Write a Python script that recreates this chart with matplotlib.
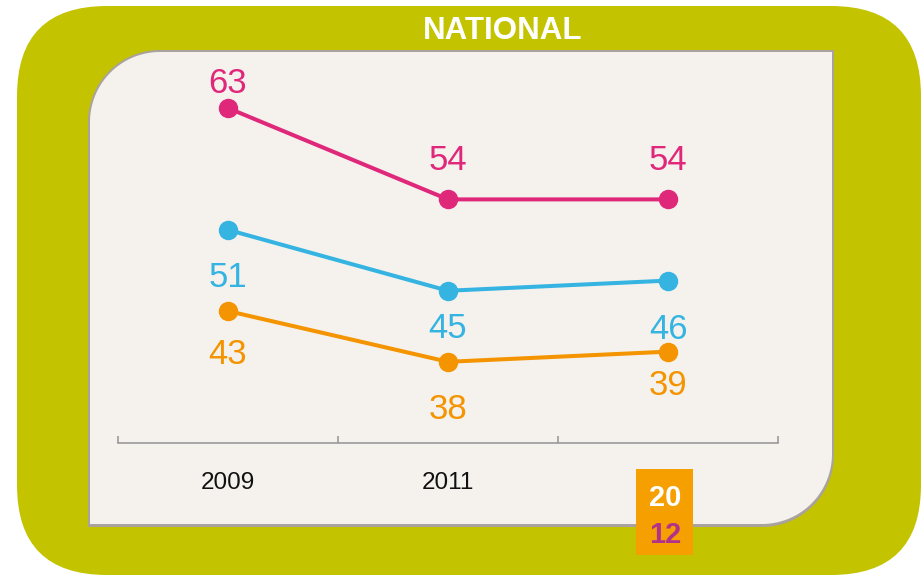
import numpy as np
import matplotlib
matplotlib.use("Agg")
import matplotlib.pyplot as plt
from matplotlib.patches import FancyBboxPatch, Rectangle, PathPatch
from matplotlib.path import Path

# données
years = ["2009", "2011", "2012"]
pink_vals = [63, 54, 54]
blue_vals = [51, 45, 46]
orange_vals = [43, 38, 39]

# décalages des étiquettes (pixels, vers le haut)
pink_dy = [25, 39, 39]
blue_dy = [-48, -38, -49]
orange_dy = [-43, -48, -34]

PINK = "#E0287A"
BLUE = "#35B4E2"
ORANGE = "#F39400"
OLIVE = "#C3C300"
PANEL = "#F5F2EE"

plt.rcParams['font.family'] = ['Liberation Sans', 'DejaVu Sans']

W, H = 921, 575
fig = plt.figure(figsize=(W / 100, H / 100), dpi=100)
fig.patch.set_facecolor("white")

# ---- fond ----
bg = fig.add_axes([0, 0, 1, 1], zorder=0)
bg.set_xlim(0, W)
bg.set_ylim(H, 0)
bg.axis("off")

outer = FancyBboxPatch((17, 6), W - 17, H - 6,
                       boxstyle="round,pad=0,rounding_size=90",
                       facecolor=OLIVE, edgecolor="none")
bg.add_patch(outer)


def panel_path(x0, y0, x1, y1, r_tl, r_br, n=30):
    pts = []
    # coin haut-gauche arrondi
    a = np.linspace(np.pi, 1.5 * np.pi, n)
    cx, cy = x0 + r_tl, y0 + r_tl
    pts += list(zip(cx + r_tl * np.cos(a), cy + r_tl * np.sin(a)))
    pts.append((x1, y0))
    # coin bas-droit arrondi
    a = np.linspace(0, 0.5 * np.pi, n)
    cx, cy = x1 - r_br, y1 - r_br
    pts += list(zip(cx + r_br * np.cos(a), cy + r_br * np.sin(a)))
    pts.append((x0, y1))
    pts.append(pts[0])
    codes = [Path.MOVETO] + [Path.LINETO] * (len(pts) - 2) + [Path.CLOSEPOLY]
    return Path(pts, codes)


shadow = PathPatch(panel_path(88, 50, 834, 527, 72, 72),
                   facecolor="#A9A29E", edgecolor="none")
bg.add_patch(shadow)
panel = PathPatch(panel_path(90, 52, 832, 524, 70, 70),
                  facecolor=PANEL, edgecolor="none")
bg.add_patch(panel)

fig.text(503 / W, 1 - 31 / H, "NATIONAL", color="white", fontsize=22.5,
         fontweight="bold", ha="center", va="center")

# ---- graphique ----
ax = fig.add_axes([118 / W, (H - 443) / H, 660 / W, 36 * 10.15 / H], zorder=1)
ax.patch.set_alpha(0)
x = np.arange(len(years))

for vals, dys, col in [(pink_vals, pink_dy, PINK),
                       (blue_vals, blue_dy, BLUE),
                       (orange_vals, orange_dy, ORANGE)]:
    ax.plot(x, vals, color=col, lw=2.9, marker="o", markersize=13,
            solid_capstyle="round", clip_on=False)
    for xi, v, dy in zip(x, vals, dys):
        ax.annotate(str(v), (xi, v), xytext=(0, dy), textcoords="offset pixels",
                    ha="center", va="center", fontsize=25, color=col,
                    annotation_clip=False)

ax.set_xlim(-0.5, 2.5)
ax.set_ylim(30, 66)
for s in ["top", "left", "right"]:
    ax.spines[s].set_visible(False)
ax.spines["bottom"].set_color("#9A9A9A")
ax.spines["bottom"].set_linewidth(1.2)
ax.set_yticks([])
ax.set_xticks(x)
ax.set_xticklabels(years, fontsize=17.5, color="#111111")
ax.set_xticks([-0.5, 0.5, 1.5, 2.5], minor=True)
ax.tick_params(axis="x", which="major", length=0, pad=21)
ax.tick_params(axis="x", which="minor", direction="in", length=5,
               width=1.2, color="#9A9A9A")

# ---- pastille 2012 ----
top = fig.add_axes([0, 0, 1, 1], zorder=2)
top.set_xlim(0, W)
top.set_ylim(H, 0)
top.axis("off")
top.add_patch(Rectangle((636, 469), 57, 86, facecolor="#F5A000", edgecolor="none"))
top.text(665, 498, "20", color="white", fontsize=21, fontweight="bold",
         ha="center", va="center")
top.text(665, 535, "12", color="#B4318A", fontsize=21, fontweight="bold",
         ha="center", va="center")

fig.savefig("out.png", dpi=100)
